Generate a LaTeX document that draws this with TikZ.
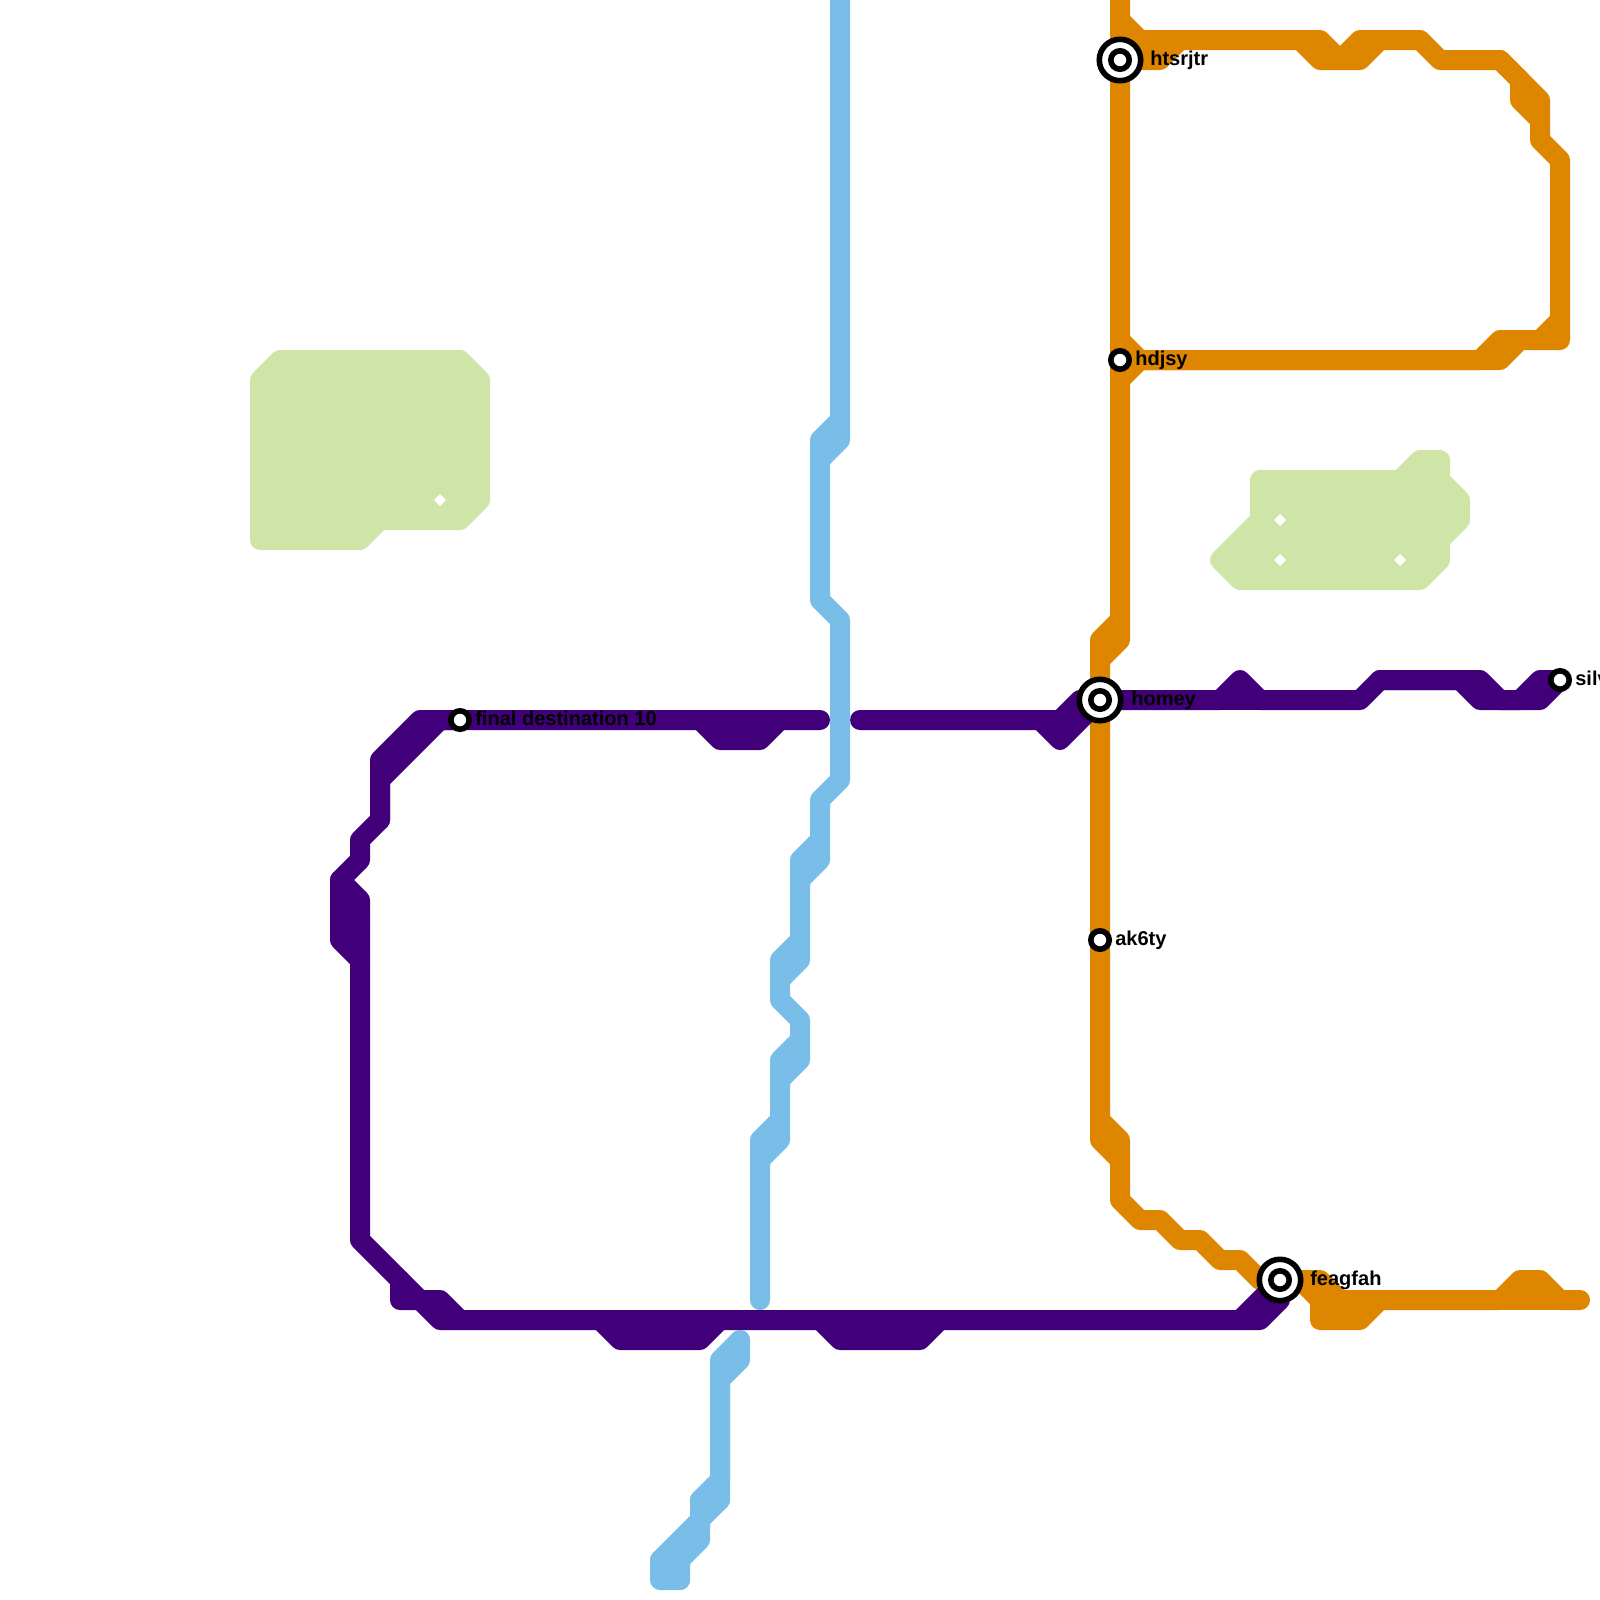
\documentclass[tikz,border=0pt]{standalone}
\usepackage{fontspec}
\setmainfont{Liberation Sans}
\definecolor{orangeLine}{HTML}{DF8600}
\definecolor{purpleLine}{HTML}{410079}
\definecolor{blueLine}{HTML}{79BDE9}
\definecolor{greenBlock}{HTML}{CFE4A7}
\tikzset{
    routeline/.style={line width=5mm,line join=round,line cap=round},
    stationsmall/.style={circle,draw=black,fill=white,line width=1.4mm,minimum size=4.6mm,inner sep=0pt},
    stationbig/.style={circle,draw=black,fill=white,line width=1.4mm,minimum size=10.35mm,inner sep=0pt},
    stationtext/.style={font=\bfseries\fontsize{14.25}{14.25}\selectfont,text=black,inner sep=0pt,text height=3.4mm,text depth=0.9mm},
    greenshape/.style={draw=greenBlock,fill=greenBlock,line width=5mm,line join=round},
    holemark/.style={fill=white},
}
\begin{document}
\begin{tikzpicture}[x=5mm,y=-5mm]
        \useasboundingbox (0,0) rectangle (80,80);
        \clip (0,0) rectangle (80,80);

        % Stations
        \coordinate (htsrjtrPt) at (56,3);
        \coordinate (hdjsyPt) at (56,18);
        \coordinate (homeyPt) at (55,35);
        \coordinate (ak6tyPt) at (55,47);
        \coordinate (feagfahPt) at (64,64);
        \coordinate (silvPt) at (78,34);
        \coordinate (finalPt) at (23,36);

        % Free line ends
        \coordinate (orangeTop) at (56,0);
        \coordinate (orangeEnd) at (79,65);
        \coordinate (blueTop) at (42,0);
        \coordinate (blueEnd) at (38,65);
        \coordinate (purpleLeftEnd) at (41,36);
        \coordinate (purpleRightEnd) at (43,36);

        % Green blocks
        \draw[greenshape] (14,18) -- (23,18) -- (24,19) -- (24,25) -- (23,26) -- (19,26) -- (18,27) -- (13,27) -- (13,19) -- cycle;
        \draw[greenshape] (63,24) -- (70,24) -- (71,23) -- (72,23) -- (72,24) -- (73,25) -- (73,26) -- (72,27) -- (72,28) -- (71,29) -- (62,29) -- (61,28) -- (63,26) -- cycle;
        \foreach \hx/\hy in {22/25,64/26,64/28,70/28}
            \fill[holemark] (\hx-0.3,\hy) -- (\hx,\hy-0.3) -- (\hx+0.3,\hy) -- (\hx,\hy+0.3) -- cycle;

        % Orange line
        \draw[routeline,orangeLine] (orangeTop) -- (htsrjtrPt) -- (hdjsyPt) -- (56,32) -- (55,33) -- (homeyPt) -- (ak6tyPt) -- (55,57) -- (56,58) -- (56,60) -- (57,61) -- (58,61) -- (59,62) -- (60,62) -- (61,63) -- (62,63) -- (63,64) -- (feagfahPt) -- (65,64) -- (66,65) -- (66,66) -- (68,66) -- (69,65) -- (75,65) -- (76,64) -- (77,64) -- (78,65) -- (orangeEnd);
        \draw[routeline,orangeLine] (56,31) -- (55,32) -- (55,33);
        \draw[routeline,orangeLine] (55,56) -- (56,57) -- (56,58);
        \draw[routeline,orangeLine] (56,1) -- (57,2) -- (65,2) -- (66,3) -- (68,3) -- (69,2) -- (71,2) -- (72,3) -- (75,3) -- (77,5) -- (77,7) -- (78,8) -- (78,17) -- (75,17) -- (74,18) -- (57,18) -- (56,17);
        \draw[routeline,orangeLine] (56,19) -- (57,18) -- (75,18) -- (76,17);
        \draw[routeline,orangeLine] (78,16) -- (77,17);
        \draw[routeline,orangeLine] (65,2) -- (66,2) -- (67,3) -- (68,2) -- (69,2);
        \draw[routeline,orangeLine] (75,3) -- (76,4) -- (76,5) -- (77,6);
        \draw[routeline,orangeLine] (htsrjtrPt) -- (58,3) -- (59,2);
        \draw[routeline,orangeLine] (feagfahPt) -- (66,64) -- (67,65) -- (69,65);
        \draw[routeline,orangeLine] (66,65) -- (67,65);
        \draw[routeline,orangeLine] (75,65) -- (78,65);

        % Purple line
        \draw[routeline,purpleLine] (purpleLeftEnd) -- (39,36) -- (38,37) -- (36,37) -- (35,36) -- (finalPt) -- (22,36) -- (19,39) -- (19,41) -- (18,42) -- (18,43) -- (17,44) -- (18,45) -- (18,62) -- (21,65) -- (22,66) -- (30,66) -- (31,67) -- (35,67) -- (36,66) -- (41,66) -- (42,67) -- (46,67) -- (47,66) -- (63,66) -- (64,65) -- (feagfahPt);
        \draw[routeline,purpleLine] (finalPt) -- (21,36) -- (19,38) -- (19,41);
        \draw[routeline,purpleLine] (17,44) -- (17,47) -- (18,48);
        \draw[routeline,purpleLine] (17,46) -- (18,46);
        \draw[routeline,purpleLine] (20,64) -- (20,65) -- (22,65) -- (23,66);
        \draw[routeline,purpleLine] (62,66) -- (feagfahPt);
        \draw[routeline,purpleLine] (purpleRightEnd) -- (52,36) -- (53,37) -- (homeyPt);
        \draw[routeline,purpleLine] (52,36) -- (53,36) -- (54,35) -- (homeyPt) -- (61,35) -- (62,34) -- (63,35) -- (68,35) -- (69,34) -- (74,34) -- (75,35) -- (76,35) -- (77,34) -- (silvPt);
        \draw[routeline,purpleLine] (69,34) -- (73,34) -- (74,35) -- (77,35) -- (silvPt);
        \draw[routeline,purpleLine] (61,35) -- (63,35);
        \draw[routeline,purpleLine] (35,36) -- (39,36);
        \draw[routeline,purpleLine] (30,66) -- (36,66);
        \draw[routeline,purpleLine] (41,66) -- (47,66);

        % Blue line
        \draw[routeline,blueLine] (blueTop) -- (42,21) -- (41,22) -- (41,30) -- (42,31) -- (42,39) -- (41,40) -- (41,42) -- (40,43) -- (40,47) -- (39,48) -- (39,50) -- (40,51) -- (40,52) -- (39,53) -- (39,56) -- (38,57) -- (blueEnd);
        \draw[routeline,blueLine] (42,21) -- (42,22) -- (41,23);
        \draw[routeline,blueLine] (41,42) -- (41,43) -- (40,44);
        \draw[routeline,blueLine] (40,47) -- (40,48) -- (39,49);
        \draw[routeline,blueLine] (40,52) -- (40,53) -- (39,54);
        \draw[routeline,blueLine] (39,56) -- (39,57) -- (38,58);

        % Lower blue piece
        \draw[routeline,blueLine] (37,67) -- (36,68) -- (36,74) -- (35,75) -- (35,76) -- (33,78) -- (33,79) -- (34,79);
        \draw[routeline,blueLine] (37,67) -- (37,68) -- (36,69) -- (36,75) -- (35,76) -- (35,77) -- (34,78) -- (34,79);
        \draw[routeline,blueLine] (35,75) -- (36,75);
        \draw[routeline,blueLine] (33,78) -- (34,78);

        % Interchanges
        \node[stationbig] (htsrjtrRing) at (htsrjtrPt) {};
        \node[stationbig] (homeyRing) at (homeyPt) {};
        \node[stationbig] (feagfahRing) at (feagfahPt) {};

        % Station circles and names
        \node[stationsmall] (htsrjtr) at (htsrjtrPt) {};
        \node[stationsmall] (homey) at (homeyPt) {};
        \node[stationsmall] (feagfah) at (feagfahPt) {};
        \node[stationsmall] (hdjsy) at (hdjsyPt) {};
        \node[stationsmall] (ak6ty) at (ak6tyPt) {};
        \node[stationsmall] (silv) at (silvPt) {};
        \node[stationsmall] (final) at (finalPt) {};

        \node[stationtext,anchor=west] (htsrjtrName) at (57.5,3) {htsrjtr};
        \node[stationtext,anchor=west] (hdjsyName) at (56.75,18) {hdjsy};
        \node[stationtext,anchor=west] (homeyName) at (56.55,35) {homey};
        \node[stationtext,anchor=west] (ak6tyName) at (55.75,47) {ak6ty};
        \node[stationtext,anchor=west] (feagfahName) at (65.5,64) {feagfah};
        \node[stationtext,anchor=west] (silvName) at (78.75,34) {silv};
        \node[stationtext,anchor=west] (finalName) at (23.75,36) {final destination 10};
\end{tikzpicture}
\end{document}
